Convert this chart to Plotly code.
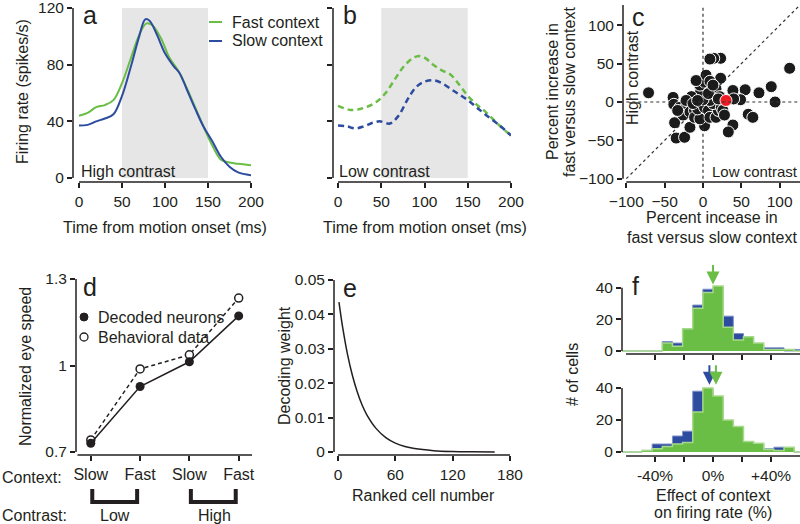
import plotly.graph_objects as go

W, H = 800, 524
FONT = "Liberation Sans, Arial, Helvetica, sans-serif"
INK = "#231f20"
GREEN = "#6abd45"
GREEN_EDGE = "#a6d98b"
BLUE = "#2d4b9f"
BLUE_EDGE = "#7f90c8"
SHADE = "#e6e6e6"

# ---- a: high contrast firing rate ----
t_hi_fast = [0, 10, 20, 30, 40, 50, 60, 70, 78, 85, 95, 105, 115, 125, 135, 145, 155, 165, 175, 185, 200]
rate_hi_fast = [44, 46, 50, 51.5, 55, 67, 84, 101, 109, 108, 99, 85, 76, 64, 50, 36, 23, 13, 11, 10, 9]
t_hi_slow = [0, 10, 20, 30, 40, 50, 60, 70, 77, 82, 90, 100, 110, 117, 125, 135, 145, 155, 165, 175, 185, 200]
rate_hi_slow = [37, 37.5, 40, 42, 45, 58, 78, 100, 112, 111, 102, 88, 79, 74, 63, 49, 36, 26, 15, 8, 4, 2]

# ---- b: low contrast firing rate ----
t_lo_fast = [0, 15, 30, 45, 55, 65, 75, 85, 92, 100, 110, 120, 130, 140, 150, 160, 170, 185, 200]
rate_lo_fast = [51, 48, 49.5, 54, 60, 69, 78, 84, 86, 85, 80, 76, 73, 66, 58, 52, 47, 38, 30]
t_lo_slow = [0, 10, 20, 30, 40, 48, 60, 70, 80, 90, 100, 110, 120, 130, 140, 150, 160, 170, 185, 200]
rate_lo_slow = [37, 36.5, 35, 36.5, 39, 40, 38.5, 44, 55, 64, 68, 69, 67, 63, 59, 55, 50, 45, 38, 30]

# ---- c: percent increase, low (x) vs high (y) contrast ----
cells_low = [-71, 23, 14, 9, 113, 23, 89, 55, 39, 73, 94, 49, 40, 59, 65, 39, 33, -35, -24, -37, 2, -17, -39, -38,
             -30, -24, -26, -17, -11, -11, -4, -7, 2, 7, 9, 17, 20, 13, 9, 0, -4, -4, 2, 4, 9, 11, 15, 17, 22, 24,
             26, 28, -9, -15, -22, -33, -13, -7, 7, 13, 20]
cells_high = [12, 57, 57, 56, 44, 31, 20, 16, 15, 12, 0, 3, 4, -16, -20, -30, -39, -47, -46, -27, -31, -33, 6, -3,
              -7, -9, -17, -13, -11, -20, -22, -9, -7, -11, -20, -20, -11, -2, 2, 3, 11, 22, 26, 35, 27, 15, 11, 17,
              7, -7, -11, -17, 28, 7, 2, -11, -2, 2, 11, 22, 4]
example_low = [30]
example_high = [2]

# ---- d: normalized eye speed ----
conditions = ["Slow", "Fast", "Slow", "Fast"]
decoded = [0.73, 0.927, 1.013, 1.172]
behavior = [0.742, 0.988, 1.037, 1.234]

# ---- e: decoding weights ----
rank = [1, 5, 10, 15, 20, 25, 30, 40, 50, 60, 70, 80, 100, 120, 140, 164]
weight = [0.0436, 0.036, 0.0283, 0.0223, 0.0176, 0.0138, 0.0109, 0.0068, 0.0042, 0.0026, 0.0016, 0.0010,
          0.0004, 0.00015, 0.00005, 0.0]

# ---- f: histograms of context effect (bin edges in %) ----
edges_top = [-63, -56, -49, -42, -35, -28, -21, -14, -7, 0, 7, 14, 21, 28, 35, 42, 49, 56, 63]
top_fast = [0, 0, 0, 0, 5, 3, 14, 27, 37, 41, 15, 7, 9, 5, 1, 1, 1, 0]
top_slow = [0, 0, 0, 0, 6, 5, 13, 29, 39, 40, 22, 11, 8, 4, 2, 2, 0, 1]
edges_bot = [-63, -56, -49, -42, -35, -28, -21, -14, -7, 0, 7, 14, 21, 28, 35, 42, 49, 56, 63]
bot_fast = [0, 0, 1, 2, 3.5, 5, 6, 25, 40, 35, 20, 16, 6.5, 5.5, 1.5, 1, 3, 0]
bot_slow = [0, 0, 1, 5, 5, 10, 13, 38, 39, 33, 18, 15, 6, 5, 2, 3, 2, 0]
mean_top_fast = 0
mean_bot_fast = 2
mean_bot_slow = -2.5


def dom_x(l, r):
    return [l / W, r / W]


def dom_y(t, b):
    return [1 - b / H, 1 - t / H]


def axis(dom, rng, anchor, tickvals, ticktext=None, labels=True, size=15.5):
    d = dict(domain=dom, range=rng, anchor=anchor, showgrid=False, zeroline=False, showline=False,
             automargin=False, ticklabeloverflow="allow",
             ticks="outside", ticklen=5, tickwidth=1.5, tickcolor=INK, tickvals=tickvals,
             showticklabels=labels, tickfont=dict(size=size, color=INK, family=FONT))
    if ticktext is not None:
        d["ticktext"] = ticktext
    return d


def spines(n, xr, yr):
    s = "" if n == 1 else str(n)
    ln = dict(color=INK, width=1.5)
    return [dict(type="line", xref=f"x{s} domain", yref=f"y{s}", x0=0, x1=0, y0=yr[0], y1=yr[1], line=ln),
            dict(type="line", xref=f"x{s}", yref=f"y{s} domain", x0=xr[0], x1=xr[1], y0=0, y1=0, line=ln)]


def note(text, x, y, size=16, angle=0, xanchor="center", yanchor="middle"):
    return dict(text=text, x=x / W, y=1 - y / H, xref="paper", yref="paper", showarrow=False,
                textangle=angle, xanchor=xanchor, yanchor=yanchor,
                font=dict(size=size, family=FONT, color=INK))


def steps(edges, counts):
    return edges, counts + [counts[-1]]


fig = go.Figure()

# a
fig.add_trace(go.Scatter(x=t_hi_fast, y=rate_hi_fast, mode="lines", line=dict(color=GREEN, width=2, shape="spline"),
                         xaxis="x", yaxis="y"))
fig.add_trace(go.Scatter(x=t_hi_slow, y=rate_hi_slow, mode="lines", line=dict(color=BLUE, width=2, shape="spline"),
                         xaxis="x", yaxis="y"))
# b
fig.add_trace(go.Scatter(x=t_lo_fast, y=rate_lo_fast, mode="lines",
                         line=dict(color=GREEN, width=2.5, shape="spline", dash="6px,4px"), xaxis="x2", yaxis="y2"))
fig.add_trace(go.Scatter(x=t_lo_slow, y=rate_lo_slow, mode="lines",
                         line=dict(color=BLUE, width=2.5, shape="spline", dash="6px,4px"), xaxis="x2", yaxis="y2"))
# c
fig.add_trace(go.Scatter(x=cells_low, y=cells_high, mode="markers",
                         marker=dict(size=12, color="#1b1b1b", line=dict(color="white", width=1)),
                         xaxis="x3", yaxis="y3"))
fig.add_trace(go.Scatter(x=example_low, y=example_high, mode="markers",
                         marker=dict(size=12, color="#ed1c24", line=dict(color="white", width=1)),
                         xaxis="x3", yaxis="y3"))
# d
fig.add_trace(go.Scatter(x=list(range(4)), y=behavior, mode="lines+markers",
                         line=dict(color=INK, width=1.5, dash="4px,3px"),
                         marker=dict(size=8, color="white", line=dict(color=INK, width=1.5)),
                         xaxis="x4", yaxis="y4"))
fig.add_trace(go.Scatter(x=list(range(4)), y=decoded, mode="lines+markers",
                         line=dict(color=INK, width=1.5), marker=dict(size=9, color=INK),
                         xaxis="x4", yaxis="y4"))
# e
fig.add_trace(go.Scatter(x=rank, y=weight, mode="lines", line=dict(color=INK, width=1.5, shape="spline"),
                         xaxis="x5", yaxis="y5"))
# f
for n, edges, slow, fast in [(6, edges_top, top_slow, top_fast), (7, edges_bot, bot_slow, bot_fast)]:
    xs, ys = steps(edges, slow)
    fig.add_trace(go.Scatter(x=xs, y=ys, mode="lines", line=dict(color=BLUE_EDGE, width=1, shape="hv"),
                             fill="tozeroy", fillcolor=BLUE, xaxis=f"x{n}", yaxis=f"y{n}"))
    xs, ys = steps(edges, fast)
    fig.add_trace(go.Scatter(x=xs, y=ys, mode="lines", line=dict(color=GREEN_EDGE, width=1.5, shape="hv"),
                             fill="tozeroy", fillcolor=GREEN, xaxis=f"x{n}", yaxis=f"y{n}"))

c_rng = [-104.3, 126.5]
layout_axes = dict(
    xaxis=axis(dom_x(73, 251), [-7, 200], "y", [0, 50, 100, 150, 200]),
    yaxis=axis(dom_y(7, 182), [-2.8, 120.7], "x", [0, 40, 80, 120]),
    xaxis2=axis(dom_x(333, 511), [-5.8, 200], "y2", [0, 50, 100, 150, 200]),
    yaxis2=axis(dom_y(7, 182), [-2.8, 120.7], "x2", [0, 40, 80, 120], labels=False),
    xaxis3=axis(dom_x(623, 800), c_rng, "y3", [-100, -50, 0, 50, 100]),
    yaxis3=axis(dom_y(5, 182), c_rng, "x3", [-100, -50, 0, 50, 100]),
    xaxis4=axis(dom_x(76, 252), [-0.3, 3.27], "y4", [0, 1, 2, 3], conditions, size=16),
    yaxis4=axis(dom_y(278, 455), [0.6896, 1.3035], "x4", [0.7, 1, 1.3], ["0.7", "1", "1.3"]),
    xaxis5=axis(dom_x(334, 510), [-4.2, 180], "y5", [0, 60, 120, 180]),
    yaxis5=axis(dom_y(279, 455), [-0.00087, 0.0503], "x5", [0, 0.01, 0.02, 0.03, 0.04, 0.05],
                ["0", "0.01", "0.02", "0.03", "0.04", "0.05"]),
    xaxis6=axis(dom_x(622, 800), [-62.8, 60], "y6", [-40, -20, 0, 20, 40], labels=False),
    yaxis6=axis(dom_y(262, 354), [-1.9, 56.2], "x6", [0, 20, 40]),
    xaxis7=axis(dom_x(622, 800), [-62.8, 60], "y7", [-40, -20, 0, 20, 40], ["-40%", "", "0%", "", "+40%"]),
    yaxis7=axis(dom_y(362, 456), [-2.5, 56.25], "x7", [0, 20, 40]),
)

shapes = []
for n in ("", "2"):
    shapes.append(dict(type="rect", xref=f"x{n}", yref=f"y{n}", x0=50, x1=150, y0=0, y1=120,
                       fillcolor=SHADE, line=dict(width=0), layer="below"))
shapes += spines(1, [0, 200], [0, 120])
shapes += spines(2, [0, 200], [0, 120])
shapes += spines(3, [-100, 126.5], [-100, 126.5])
shapes += spines(4, [-0.27, 3.27], [0.7, 1.3])
shapes += spines(5, [0, 180], [0, 0.05])
shapes += spines(6, [-60, 60], [0, 40])
shapes += spines(7, [-60, 60], [0, 40])
dash = dict(color="#333333", width=1.2, dash="3px,3px")
shapes += [
    dict(type="line", xref="x3", yref="y3", x0=-100, x1=126.5, y0=-100, y1=126.5, line=dash),
    dict(type="line", xref="x3", yref="y3", x0=0, x1=0, y0=-100, y1=126.5, line=dash),
    dict(type="line", xref="x3", yref="y3", x0=-100, x1=126.5, y0=0, y1=0, line=dash),
]
# legend keys for a
shapes += [
    dict(type="line", xref="paper", yref="paper", x0=209 / W, x1=222 / W, y0=1 - 22 / H, y1=1 - 22 / H,
         line=dict(color=GREEN, width=2)),
    dict(type="line", xref="paper", yref="paper", x0=209 / W, x1=222 / W, y0=1 - 41 / H, y1=1 - 41 / H,
         line=dict(color=BLUE, width=2)),
]
# legend keys for d
r = 4
shapes += [
    dict(type="circle", xref="paper", yref="paper", x0=(84 - r) / W, x1=(84 + r) / W,
         y0=1 - (317 + r) / H, y1=1 - (317 - r) / H, fillcolor=INK, line=dict(color=INK, width=1)),
    dict(type="circle", xref="paper", yref="paper", x0=(84 - r) / W, x1=(84 + r) / W,
         y0=1 - (337 + r) / H, y1=1 - (337 - r) / H, fillcolor="white", line=dict(color=INK, width=1.3)),
]
# contrast brackets under d
for lo, hi in [(0, 1), (2, 3)]:
    y_top, y_bot = 1 - 489 / H, 1 - 502 / H
    shapes.append(dict(type="path", xref="x4", yref="paper",
                       path=f"M{lo + 0.03},{y_top} L{lo + 0.03},{y_bot} L{hi - 0.06},{y_bot} L{hi - 0.06},{y_top}",
                       line=dict(color=INK, width=4)))

annotations = [
    note("a", 90, 15, size=25), note("b", 350, 15, size=25), note("c", 638, 17, size=25),
    note("d", 90, 287, size=25), note("e", 350, 288, size=25), note("f", 635, 286, size=25),
    note("Fast context", 230, 22, xanchor="left"), note("Slow context", 230, 41, xanchor="left"),
    note("High contrast", 79, 171, xanchor="left"), note("Low contrast", 337, 171, xanchor="left"),
    note("Firing rate (spikes/s)", 23, 92, angle=-90),
    note("Time from motion onset (ms)", 165, 227), note("Time from motion onset (ms)", 425, 227),
    note("Percent increase in", 553, 92, angle=-90), note("fast versus slow context", 570, 92, angle=-90),
    note("Percent incease in", 712, 217), note("fast versus slow context", 712, 237),
    note("High contrast", 633, 78, angle=-90), note("Low contrast", 800, 171, size=15, xanchor="right"),
    note("Decoded neurons", 96, 317, xanchor="left"), note("Behavioral data", 96, 337, xanchor="left"),
    note("Normalized eye speed", 25, 367, angle=-90),
    note("Context:", 0, 477, xanchor="left"), note("Contrast:", 0, 515, xanchor="left"),
    dict(text="Low", x=0.5, y=1 - 515 / H, xref="x4", yref="paper", showarrow=False,
         xanchor="center", yanchor="middle", font=dict(size=16, family=FONT, color=INK)),
    dict(text="High", x=2.5, y=1 - 515 / H, xref="x4", yref="paper", showarrow=False,
         xanchor="center", yanchor="middle", font=dict(size=16, family=FONT, color=INK)),
    note("Decoding weight", 284, 366, angle=-90), note("Ranked cell number", 423, 495),
    note("# of cells", 572, 375, angle=-90),
    note("Effect of context", 713, 495), note("on firing rate (%)", 713, 512),
]
for n, xm, color in [(6, mean_top_fast, GREEN), (7, mean_bot_slow, BLUE), (7, mean_bot_fast, GREEN)]:
    annotations.append(dict(text="", x=xm, y=42, xref=f"x{n}", yref=f"y{n}", showarrow=True, ax=0, ay=-21,
                            arrowhead=2, arrowsize=1.3, arrowwidth=2, arrowcolor=color))

fig.update_layout(
    width=W, height=H, margin=dict(l=0, r=0, t=0, b=0),
    paper_bgcolor="white", plot_bgcolor="white", showlegend=False,
    font=dict(family=FONT, color=INK, size=16),
    shapes=shapes, annotations=annotations, **layout_axes,
)

# the page's default body margin would push the 800x524 figure off the window
fig.write_html("out.html", config={"displayModeBar": False},
               post_script="document.body.style.margin = '0px';")
